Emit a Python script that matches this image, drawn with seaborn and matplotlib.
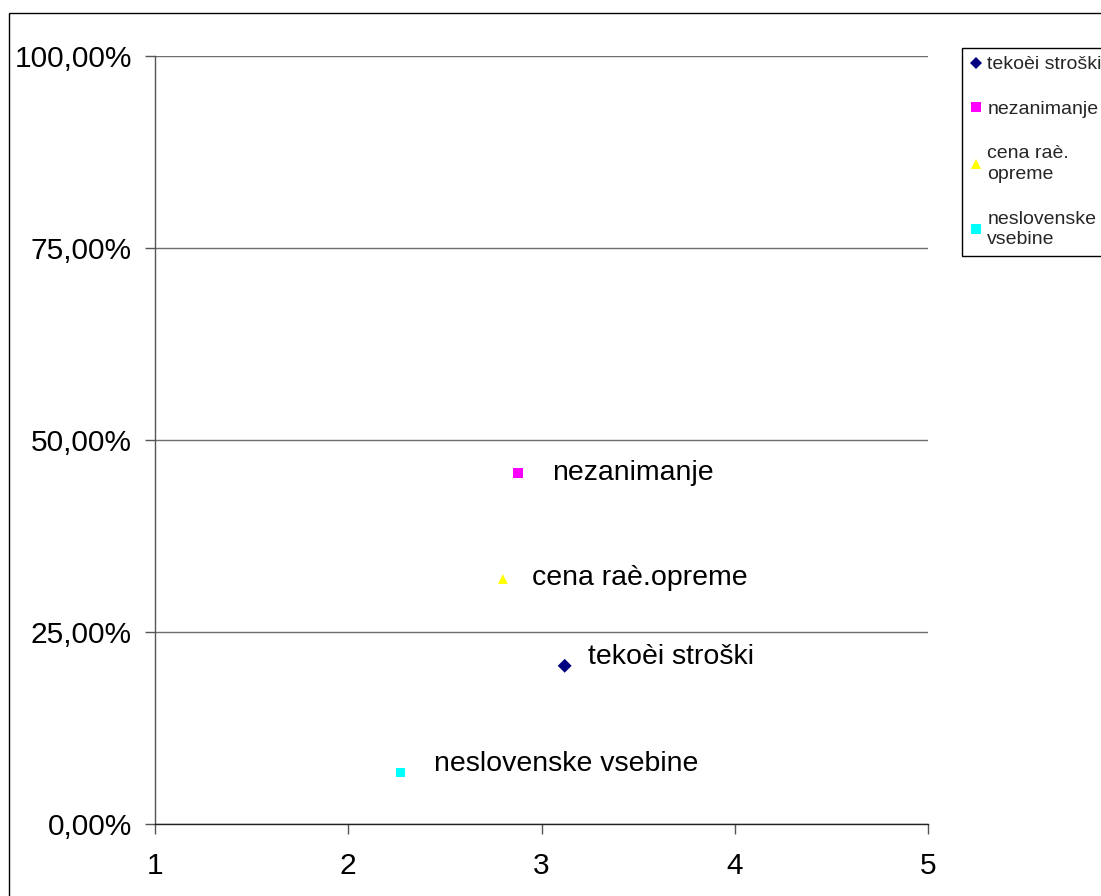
import matplotlib
matplotlib.use("Agg")
import matplotlib.pyplot as plt
import seaborn as sns
import pandas as pd
from matplotlib.lines import Line2D
from matplotlib.patches import Rectangle
from matplotlib.ticker import FuncFormatter, FixedLocator

# ---- data ----
names = ["tekoèi stroški", "nezanimanje", "cena raè.opreme", "neslovenske vsebine"]
legend_labels = ["tekoèi stroški", "nezanimanje", "cena raè.\nopreme", "neslovenske\nvsebine"]
x_values = [3.12, 2.88, 2.80, 2.27]
y_values = [0.206, 0.457, 0.319, 0.067]
colors = ["#000080", "#FF00FF", "#FFFF00", "#00FFFF"]
marker_shapes = ["D", "s", "^", "s"]
x_ticks = [1, 2, 3, 4, 5]
y_ticks = [0.0, 0.25, 0.50, 0.75, 1.0]

# label offsets (points)
label_offsets = [(17, 6), (24, 0), (21, 1), (24, 6)]

sns.set_style("white")
plt.rcParams["font.family"] = ["Liberation Sans", "DejaVu Sans"]

df = pd.DataFrame({"x": x_values, "y": y_values, "name": names})

fig = plt.figure(figsize=(11.01, 8.96), dpi=100)
ax = fig.add_axes([155 / 1101, 72 / 896, (928 - 155) / 1101, (824 - 56) / 896])

sns.scatterplot(
    data=df, x="x", y="y", hue="name", style="name",
    palette=dict(zip(names, colors)),
    markers=dict(zip(names, marker_shapes)),
    s=50, linewidth=0, legend=False, ax=ax, zorder=3,
)

for name, xv, yv, off in zip(names, x_values, y_values, label_offsets):
    ax.annotate(name, (xv, yv), xytext=off, textcoords="offset points",
                ha="left", va="center", fontsize=20.5, color="black")

ax.set_xlim(1, 5)
ax.set_ylim(0, 1)
ax.xaxis.set_major_locator(FixedLocator(x_ticks))
ax.yaxis.set_major_locator(FixedLocator(y_ticks))
ax.yaxis.set_major_formatter(FuncFormatter(lambda v, p: f"{v*100:.2f}%".replace(".", ",")))
ax.xaxis.set_major_formatter(FuncFormatter(lambda v, p: f"{int(v)}"))
ax.set_xlabel("")
ax.set_ylabel("")

ax.grid(axis="y", color="#6e6e6e", linewidth=1)
ax.set_axisbelow(True)
for side in ["top", "right"]:
    ax.spines[side].set_visible(False)
ax.spines["left"].set_color("#555555")
ax.spines["bottom"].set_color("#222222")
for side in ["left", "bottom"]:
    ax.spines[side].set_linewidth(1)
ax.tick_params(axis="both", which="major", direction="out", length=7, width=1,
               color="#555555", labelsize=21.5, labelcolor="black")
ax.tick_params(axis="y", left=True, pad=9.5)
ax.tick_params(axis="x", bottom=True, pad=13.5)

# outer chart border
fig.patches.append(Rectangle((9 / 1101, -0.1), 1.2, 0.1 + (1 - 13 / 896),
                             transform=fig.transFigure, fill=False,
                             edgecolor="black", linewidth=1))

handles = [Line2D([0], [0], marker=m, color="none", markerfacecolor=c,
                  markeredgewidth=0, markersize=6.5, linestyle="none")
           for m, c in zip(marker_shapes, colors)]
leg = fig.legend(handles, legend_labels, loc="upper left",
                 bbox_to_anchor=(962 / 1101, 1 - 48 / 896),
                 fontsize=14, frameon=True, fancybox=False, framealpha=1,
                 edgecolor="black", handlelength=0.6, handletextpad=0.3,
                 labelspacing=1.4, borderpad=0.4, borderaxespad=0)
leg.get_frame().set_linewidth(1)
for t in leg.get_texts():
    t.set_linespacing(1.3)

fig.savefig("out.png", dpi=100)
